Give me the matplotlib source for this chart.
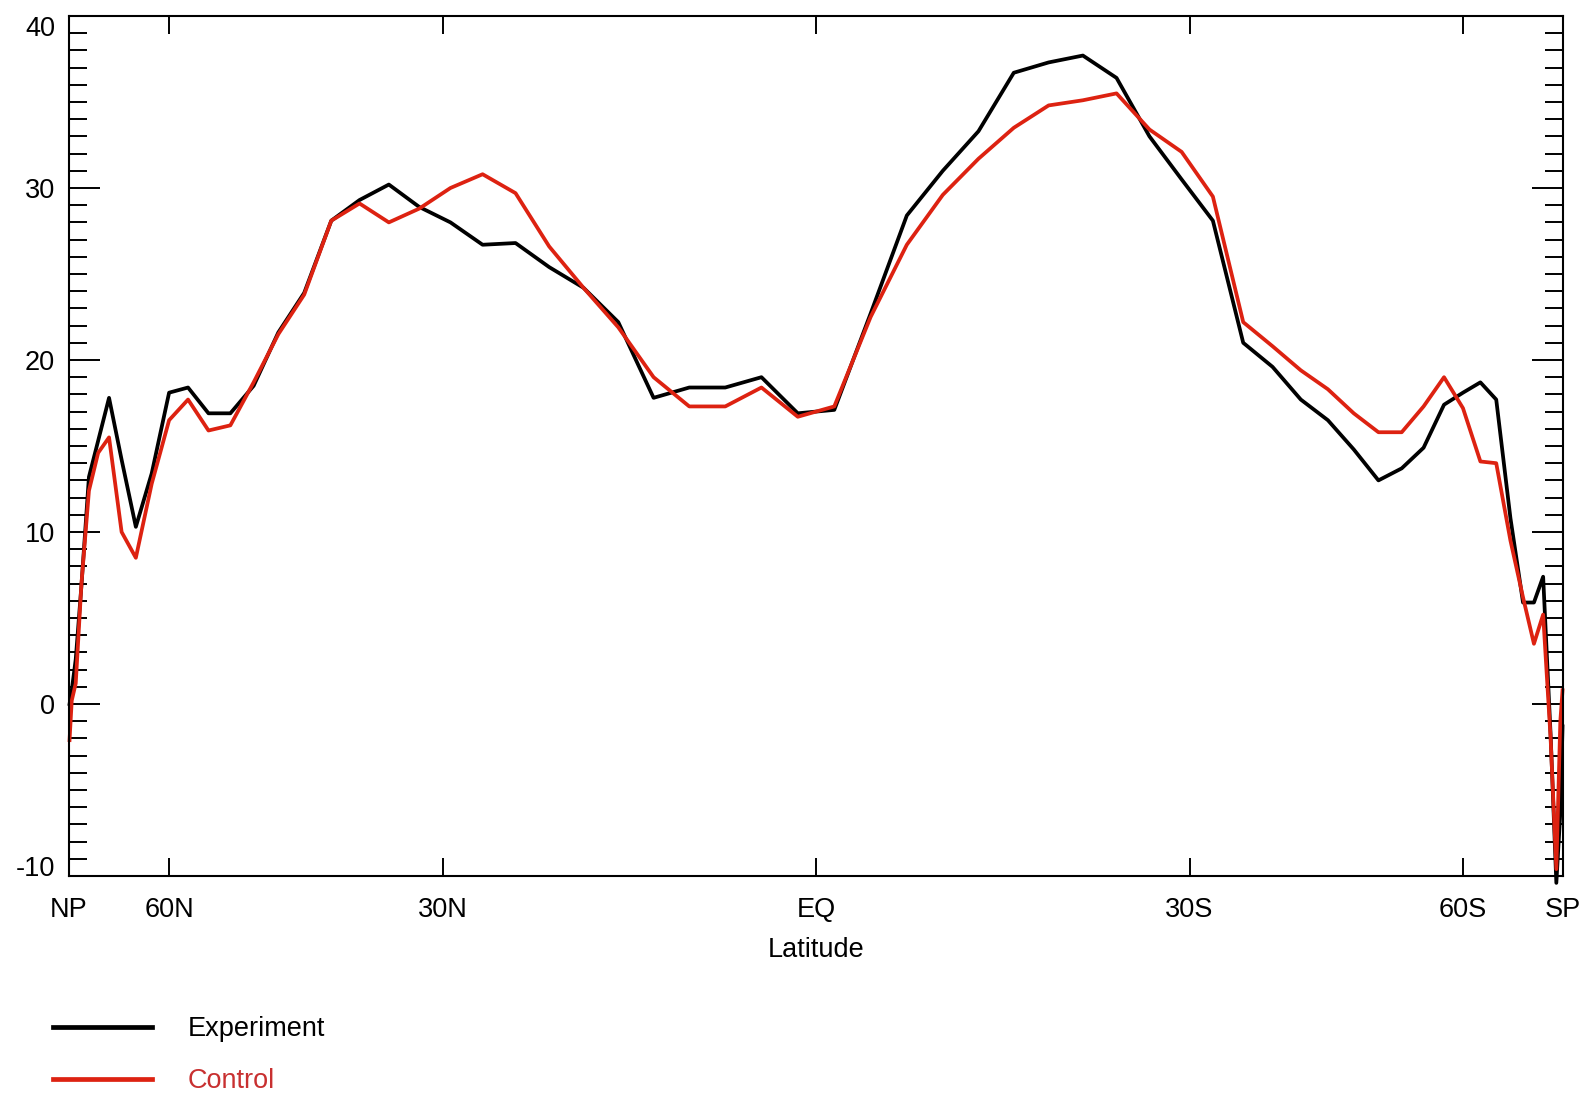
import numpy as np
import matplotlib
matplotlib.use("Agg")
import matplotlib.pyplot as plt
from matplotlib.ticker import MultipleLocator

plt.rcParams['font.family'] = ['Liberation Sans', 'DejaVu Sans']
plt.rcParams['axes.unicode_minus'] = False

# T42 gaussian latitudes (northern half, mirrored for the south)
lat_north = [87.86, 85.10, 82.31, 79.53, 76.74, 73.95, 71.16, 68.37, 65.58, 62.79,
             60.00, 57.21, 54.42, 51.63, 48.84, 46.04, 43.25, 40.46, 37.67, 34.88,
             32.09, 29.30, 26.51, 23.72, 20.93, 18.14, 15.35, 12.56, 9.77, 6.98,
             4.19, 1.40]
lats = np.array(lat_north + [-l for l in lat_north[::-1]])

experiment = [0.0, 0.8, 2.6, 6.9, 13.2, 15.3, 17.8, 14.2, 10.3, 13.4,
              18.1, 18.4, 16.9, 16.9, 18.5, 21.6, 23.9, 28.1, 29.3, 30.2,
              28.9, 28.0, 26.7, 26.8, 25.4, 24.2, 22.2, 17.8, 18.4, 18.4,
              19.0, 16.9,
              17.1, 22.7, 28.4, 31.0, 33.3, 36.7, 37.3, 37.7, 36.4, 33.0,
              30.5, 28.1, 21.0, 19.6, 17.7, 16.5, 14.8, 13.0, 13.7, 14.9,
              17.4, 18.1, 18.7, 17.7, 10.8, 5.9, 5.9, 7.4, -1.8, -10.4,
              -6.3, -1.3]

control = [-2.1, 0.2, 1.2, 7.0, 12.4, 14.6, 15.5, 10.0, 8.5, 12.8,
           16.5, 17.7, 15.9, 16.2, 18.7, 21.5, 23.8, 28.1, 29.1, 28.0,
           28.8, 30.0, 30.8, 29.7, 26.6, 24.2, 21.9, 19.0, 17.3, 17.3,
           18.4, 16.7,
           17.3, 22.5, 26.7, 29.6, 31.7, 33.5, 34.8, 35.1, 35.5, 33.4,
           32.1, 29.5, 22.2, 20.8, 19.4, 18.3, 16.9, 15.8, 15.8, 17.3,
           19.0, 17.2, 14.1, 14.0, 9.5, 6.2, 3.5, 5.2, -2.0, -9.6,
           -1.0, 0.8]

tick_lats = [90, 60, 30, 0, -30, -60, -90]
tick_labels = ["NP", "60N", "30N", "EQ", "30S", "60S", "SP"]

red = "#dd2211"
fs = 19.5

fig = plt.figure(figsize=(15.83, 10.95), dpi=100)
ax = fig.add_axes([0.0436, 0.2, 0.9438, 0.7854])

# area-weighted latitude axis: plot against sin(lat)
x = np.sin(np.radians(lats))
ax.plot(x, experiment, color="black", lw=2.7, label="Experiment", clip_on=False)
ax.plot(x, control, color=red, lw=2.7, label="Control", clip_on=False)

ax.set_xlim(1, -1)
ax.set_ylim(-10, 40)

ax.set_xticks(np.sin(np.radians(tick_lats)))
ax.set_xticklabels(tick_labels)
ax.set_yticks([-10, 0, 10, 20, 30, 40])
ax.yaxis.set_minor_locator(MultipleLocator(1))

ax.tick_params(axis="x", which="major", direction="in", top=True, bottom=True,
               length=13, width=1.4, labelsize=fs, pad=15)
ax.tick_params(axis="y", which="major", direction="in", left=True, right=True,
               length=22, width=1.4, labelsize=fs, pad=10)
ax.tick_params(axis="y", which="minor", direction="in", left=True, right=True,
               length=13, width=1.4)
for s in ax.spines.values():
    s.set_linewidth(1.5)

# keep the end labels inside the frame
yticks = ax.yaxis.get_major_ticks()
yticks[0].label1.set_va("baseline")
yticks[-1].label1.set_va("top")

ax.set_xlabel("Latitude", fontsize=fs, labelpad=10)

leg = ax.legend(loc="upper left", bbox_to_anchor=(0.0181, 0.094),
                bbox_transform=fig.transFigure, frameon=False, fontsize=fs,
                handlelength=3.67, handletextpad=1.3, labelspacing=0.95)
for line in leg.get_lines():
    line.set_linewidth(3.4)
leg.get_texts()[1].set_color("#c83030")

fig.savefig("out.png", dpi=100)
